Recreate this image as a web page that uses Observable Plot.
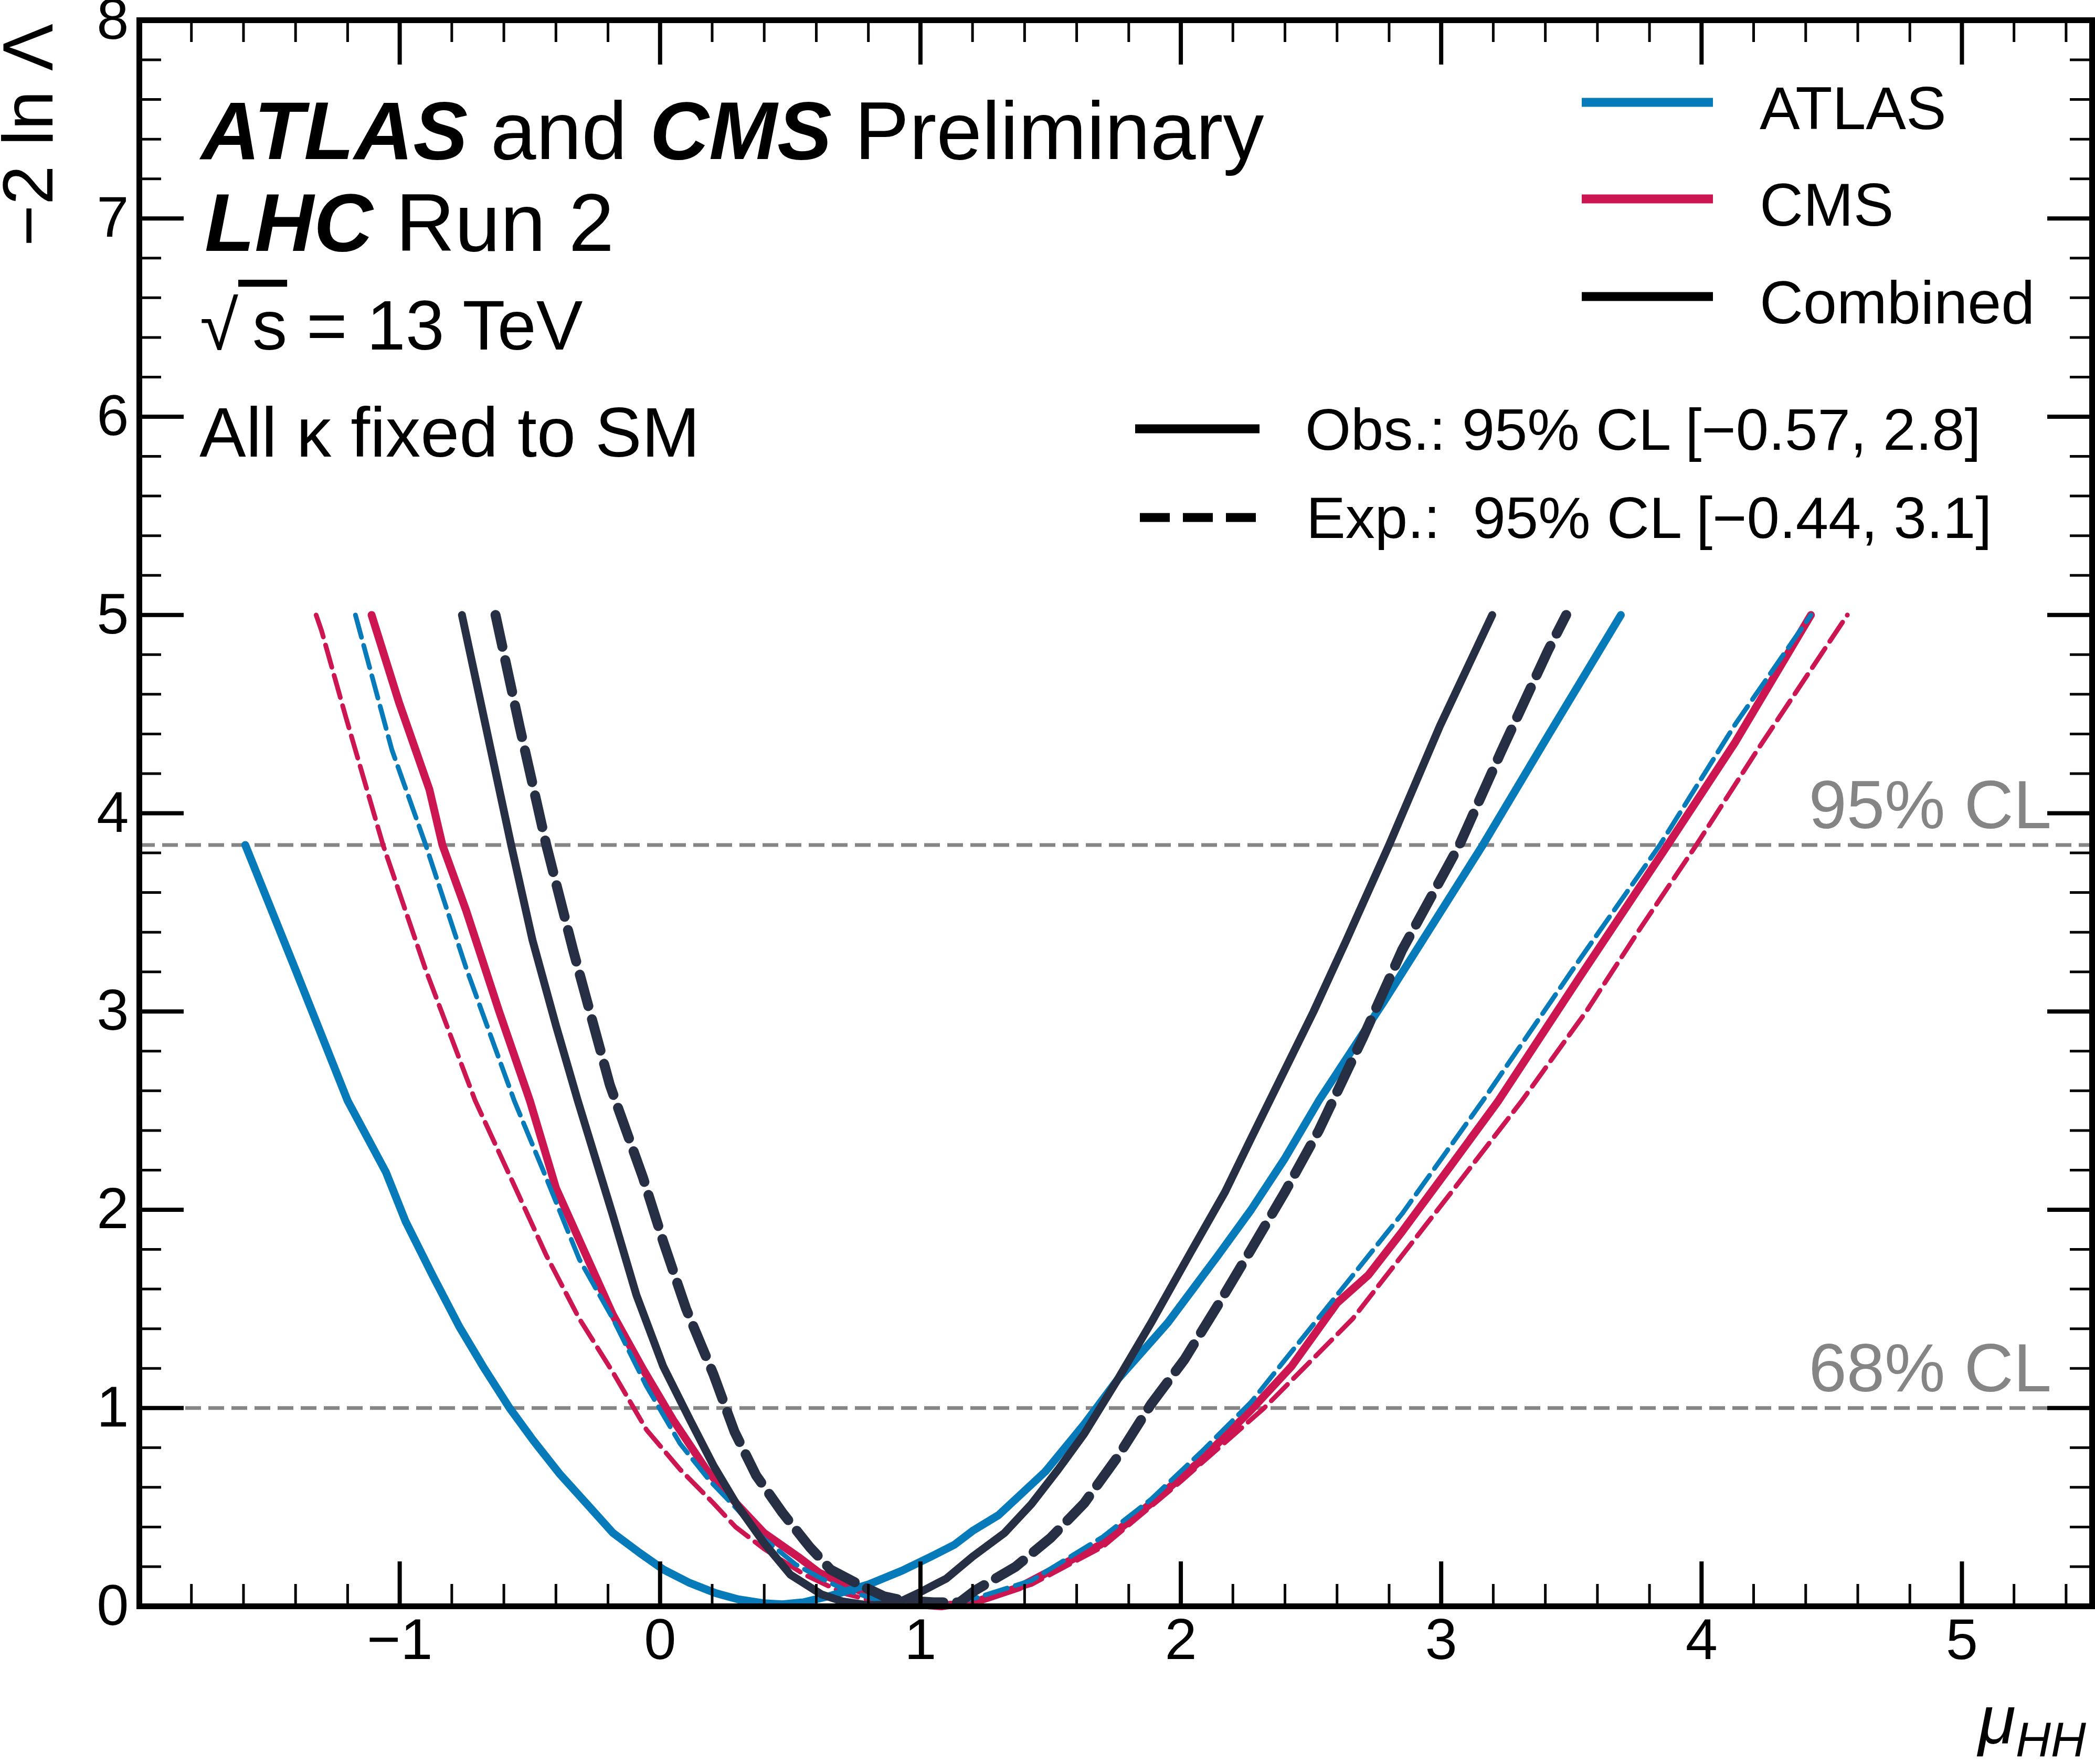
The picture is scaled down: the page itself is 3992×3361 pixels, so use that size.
<!DOCTYPE html>
<html>
<head>
<meta charset="utf-8">
<script src="https://cdn.jsdelivr.net/npm/d3@7"></script>
<script src="https://cdn.jsdelivr.net/npm/@observablehq/plot@0.6"></script>
<style>
html, body { margin: 0; padding: 0; background: #ffffff; }
svg text { font-family: "Liberation Sans", Arial, Helvetica, sans-serif; white-space: pre; }
</style>
</head>
<body>
<div id="chart"></div>
<script>
// ---------------- data ----------------
const xTicks = [-1, 0, 1, 2, 3, 4, 5];
const yTicks = [0, 1, 2, 3, 4, 5, 6, 7, 8];
const clLevels = [1, 3.84];
const clLabels = ["68% CL", "95% CL"];

const atlasObsMu  = [-1.593, -1.40, -1.20, -1.053, -0.977, -0.874, -0.771, -0.68, -0.578, -0.489, -0.387, -0.284, -0.181, -0.079, 0.012, 0.11, 0.214, 0.30, 0.40, 0.47, 0.55, 0.66, 0.80, 0.93, 1.04, 1.13, 1.20, 1.30, 1.48, 1.63, 1.758, 1.95, 2.143, 2.27, 2.40, 2.53, 2.78, 3.16, 3.41, 3.69];
const atlasObsVal = [3.84, 3.21, 2.55, 2.19, 1.94, 1.67, 1.41, 1.21, 1.0, 0.84, 0.67, 0.52, 0.37, 0.27, 0.186, 0.12, 0.066, 0.035, 0.015, 0.01, 0.02, 0.055, 0.11, 0.18, 0.25, 0.31, 0.38, 0.46, 0.68, 0.92, 1.145, 1.43, 1.77, 2.0, 2.26, 2.55, 3.05, 3.84, 4.39, 5.0];

const atlasExpMu  = [-1.17, -1.03, -0.90, -0.745, -0.56, -0.437, -0.31, -0.181, -0.052, 0.077, 0.193, 0.296, 0.399, 0.522, 0.62, 0.707, 0.85, 1.0, 1.12, 1.22, 1.426, 1.70, 1.886, 2.08, 2.27, 2.60, 2.85, 3.16, 3.52, 3.84, 4.13, 4.42];
const atlasExpVal = [5.0, 4.32, 3.84, 3.22, 2.55, 2.16, 1.75, 1.45, 1.11, 0.82, 0.63, 0.49, 0.34, 0.21, 0.14, 0.085, 0.025, 0.0, 0.015, 0.045, 0.13, 0.35, 0.54, 0.78, 1.03, 1.57, 1.98, 2.55, 3.24, 3.84, 4.45, 5.0];

const cmsObsMu  = [-1.108, -1.003, -0.886, -0.836, -0.745, -0.618, -0.50, -0.40, -0.284, -0.181, -0.065, 0.05, 0.18, 0.292, 0.399, 0.53, 0.61, 0.73, 0.81, 0.95, 1.08, 1.22, 1.376, 1.53, 1.69, 1.886, 2.08, 2.27, 2.425, 2.60, 2.72, 2.85, 3.03, 3.22, 3.53, 3.87, 4.13, 4.42];
const cmsObsVal = [5.0, 4.56, 4.12, 3.84, 3.51, 3.0, 2.55, 2.11, 1.77, 1.47, 1.195, 0.94, 0.685, 0.52, 0.37, 0.25, 0.17, 0.10, 0.054, 0.012, 0.0, 0.026, 0.094, 0.2, 0.31, 0.52, 0.74, 0.99, 1.21, 1.53, 1.67, 1.89, 2.21, 2.55, 3.17, 3.84, 4.36, 5.0];

const cmsExpMu  = [-1.321, -1.30, -1.208, -1.064, -0.90, -0.71, -0.566, -0.437, -0.31, -0.181, -0.052, 0.077, 0.205, 0.29, 0.399, 0.554, 0.707, 0.85, 1.0, 1.22, 1.426, 1.70, 2.0, 2.32, 2.66, 3.04, 3.31, 3.557, 3.76, 3.98, 4.21, 4.56];
const cmsExpVal = [5.0, 4.92, 4.49, 3.84, 3.21, 2.55, 2.14, 1.77, 1.45, 1.18, 0.89, 0.69, 0.52, 0.40, 0.29, 0.16, 0.065, 0.015, 0.0, 0.03, 0.11, 0.30, 0.63, 1.0, 1.45, 2.09, 2.55, 3.0, 3.41, 3.84, 4.31, 5.0];

const combObsMu  = [-0.761, -0.668, -0.572, -0.49, -0.40, -0.316, -0.181, -0.091, 0.012, 0.115, 0.205, 0.296, 0.399, 0.50, 0.62, 0.70, 0.80, 0.90, 0.997, 1.10, 1.20, 1.323, 1.426, 1.529, 1.629, 1.758, 1.886, 2.04, 2.17, 2.27, 2.51, 2.636, 2.80, 2.995, 3.196];
const combObsVal = [5.0, 4.43, 3.84, 3.36, 2.93, 2.55, 1.97, 1.57, 1.21, 0.94, 0.71, 0.51, 0.32, 0.16, 0.06, 0.025, 0.005, 0.01, 0.07, 0.14, 0.25, 0.37, 0.515, 0.69, 0.87, 1.145, 1.43, 1.79, 2.09, 2.36, 3.0, 3.36, 3.84, 4.44, 5.0];

const combExpMu  = [-0.632, -0.54, -0.437, -0.334, -0.193, -0.065, 0.012, 0.10, 0.205, 0.286, 0.369, 0.471, 0.574, 0.655, 0.77, 0.86, 0.93, 1.05, 1.15, 1.21, 1.366, 1.50, 1.629, 1.758, 1.886, 2.014, 2.143, 2.27, 2.40, 2.53, 2.70, 2.85, 3.07, 3.23, 3.41, 3.48];
const combExpVal = [5.0, 4.44, 3.84, 3.31, 2.63, 2.16, 1.84, 1.50, 1.17, 0.88, 0.66, 0.47, 0.30, 0.185, 0.106, 0.05, 0.03, 0.02, 0.02, 0.08, 0.2, 0.345, 0.52, 0.755, 1.02, 1.245, 1.52, 1.80, 2.09, 2.40, 2.87, 3.31, 3.84, 4.31, 4.82, 5.0];

const legendNames = ["ATLAS", "CMS", "Combined"];
const obsLegendText = "Obs.: 95% CL [\u22120.57, 2.8]";
const expLegendText = "Exp.:  95% CL [\u22120.44, 3.1]";

// ---------------- styling ----------------
const FONT = '"Liberation Sans", Arial, Helvetica, sans-serif';
const BLUE = "#077BBA";
const RED = "#CB1652";
const NAVY = "#272F44";
const GRAY = "#858585";

const W = 3992, H = 3361, mL = 265, mR = 6, mT = 38, mB = 301;
const fH = H - mT - mB, fW = W - mL - mR;
const MAJ = 85, MIN = 42;

const rows = (mu, val) => mu.map((m, i) => ({mu: m, v: val[i]}));
const fmt = d => (d < 0 ? "\u2212" : "") + Math.abs(d);

const xMinor = d3.range(-1.8, 5.5, 0.2).map(d => Math.round(d * 10) / 10).filter(d => Math.abs(d - Math.round(d)) > 1e-6);
const yMinor = d3.range(0.2, 8, 0.2).map(d => Math.round(d * 10) / 10).filter(d => Math.abs(d - Math.round(d)) > 1e-6);

const solidW = 15, thickDashW = 19, thinDashW = 9;

const chart = Plot.plot({
  width: W, height: H,
  marginLeft: mL, marginRight: mR, marginTop: mT, marginBottom: mB,
  style: {fontFamily: FONT, background: "white", color: "black"},
  x: {domain: [-2, 5.5]},
  y: {domain: [0, 8]},
  marks: [
    Plot.ruleY(clLevels, {y: d => d, stroke: GRAY, strokeWidth: 7, strokeDasharray: "30,14"}),
    Plot.line(rows(cmsObsMu, cmsObsVal), {x: "mu", y: "v", stroke: RED, strokeWidth: solidW}),
    Plot.line(rows(cmsExpMu, cmsExpVal), {x: "mu", y: "v", stroke: RED, strokeWidth: thinDashW, strokeDasharray: "44,16"}),
    Plot.line(rows(atlasObsMu, atlasObsVal), {x: "mu", y: "v", stroke: BLUE, strokeWidth: solidW}),
    Plot.line(rows(atlasExpMu, atlasExpVal), {x: "mu", y: "v", stroke: BLUE, strokeWidth: thinDashW, strokeDasharray: "44,16"}),
    Plot.line(rows(combExpMu, combExpVal), {x: "mu", y: "v", stroke: NAVY, strokeWidth: thickDashW, strokeDasharray: "62,26"}),
    Plot.line(rows(combObsMu, combObsVal), {x: "mu", y: "v", stroke: NAVY, strokeWidth: solidW}),
    // inward ticks, bottom / top
    Plot.ruleX(xTicks, {x: d => d, insetTop: fH - MAJ, stroke: "black", strokeWidth: 8}),
    Plot.ruleX(xMinor, {x: d => d, insetTop: fH - MIN, stroke: "black", strokeWidth: 5}),
    Plot.ruleX(xTicks, {x: d => d, insetBottom: fH - MAJ, stroke: "black", strokeWidth: 8}),
    Plot.ruleX(xMinor, {x: d => d, insetBottom: fH - MIN, stroke: "black", strokeWidth: 5}),
    // inward ticks, left / right
    Plot.ruleY(yTicks, {y: d => d, insetRight: fW - MAJ, stroke: "black", strokeWidth: 8}),
    Plot.ruleY(yMinor, {y: d => d, insetRight: fW - MIN, stroke: "black", strokeWidth: 5}),
    Plot.ruleY(yTicks, {y: d => d, insetLeft: fW - MAJ, stroke: "black", strokeWidth: 8}),
    Plot.ruleY(yMinor, {y: d => d, insetLeft: fW - MIN, stroke: "black", strokeWidth: 5}),
    Plot.axisX(xTicks, {anchor: "bottom", tickSize: 0, tickPadding: 22, fontSize: 110, label: null, tickFormat: fmt}),
    Plot.axisY(yTicks, {anchor: "left", tickSize: 0, tickPadding: 20, fontSize: 110, label: null, tickFormat: fmt}),
    Plot.frame({stroke: "black", strokeWidth: 11})
  ]
});

document.getElementById("chart").appendChild(chart);

const svg = d3.select(chart);
const ys = chart.scale("y");
const g = svg.append("g").attr("font-family", FONT).attr("text-anchor", "start");

// CL labels
clLevels.forEach((lv, i) => {
  g.append("text")
    .attr("x", 3909).attr("y", ys.apply(lv) - 31)
    .attr("text-anchor", "end").attr("font-size", 130).attr("fill", GRAY)
    .text(clLabels[i]);
});

// Header
const t1 = g.append("text").attr("x", 383).attr("y", 303).attr("font-size", 156).attr("fill", "black").attr("text-anchor", "start");
t1.append("tspan").attr("font-weight", "bold").attr("font-style", "italic").text("ATLAS");
t1.append("tspan").text(" and ");
t1.append("tspan").attr("font-weight", "bold").attr("font-style", "italic").text("CMS");
t1.append("tspan").text(" Preliminary");

const t2 = g.append("text").attr("x", 390).attr("y", 478).attr("font-size", 156).attr("fill", "black").attr("text-anchor", "start");
t2.append("tspan").attr("font-weight", "bold").attr("font-style", "italic").text("LHC");
t2.append("tspan").text(" Run 2");

const t3 = g.append("text").attr("x", 381).attr("y", 666).attr("font-size", 133).attr("fill", "black").attr("text-anchor", "start");
t3.append("tspan").text("\u221A");
t3.append("tspan").style("text-decoration", "overline").text("\u2009s");
t3.append("tspan").text(" = 13 TeV");

g.append("text").attr("x", 380).attr("y", 870).attr("font-size", 133).attr("fill", "black").attr("text-anchor", "start")
  .text("All \u03BA fixed to SM");

// Legend (experiments)
const legColors = [BLUE, RED, "black"];
const legY = [195, 379, 565];
legendNames.forEach((name, i) => {
  g.append("line").attr("x1", 3014).attr("x2", 3264).attr("y1", legY[i]).attr("y2", legY[i])
    .attr("stroke", legColors[i]).attr("stroke-width", 17);
  g.append("text").attr("x", 3353).attr("y", legY[i] + 51).attr("font-size", 115).attr("fill", "black")
    .attr("text-anchor", "start").text(name);
});

// Legend (obs / exp)
g.append("line").attr("x1", 2163).attr("x2", 2400).attr("y1", 817).attr("y2", 817)
  .attr("stroke", "black").attr("stroke-width", 17);
g.append("text").attr("x", 2487).attr("y", 857).attr("font-size", 112).attr("fill", "black")
  .attr("text-anchor", "start").text(obsLegendText);
g.append("line").attr("x1", 2172).attr("x2", 2393).attr("y1", 986).attr("y2", 986)
  .attr("stroke", "black").attr("stroke-width", 17).attr("stroke-dasharray", "57,25");
g.append("text").attr("x", 2489).attr("y", 1025).attr("font-size", 112).attr("fill", "black")
  .attr("text-anchor", "start").text(expLegendText);

// Axis titles
g.append("text").attr("transform", "translate(100,45) rotate(-90)")
  .attr("text-anchor", "end").attr("font-size", 135).attr("fill", "black")
  .text("\u22122 ln \u039B");

const xt = g.append("text").attr("x", 3975).attr("y", 3322).attr("text-anchor", "end")
  .attr("font-style", "italic").attr("fill", "black");
xt.append("tspan").attr("font-size", 130).text("\u03BC");
xt.append("tspan").attr("font-size", 93).attr("dy", 25).text("HH");
</script>
</body>
</html>
